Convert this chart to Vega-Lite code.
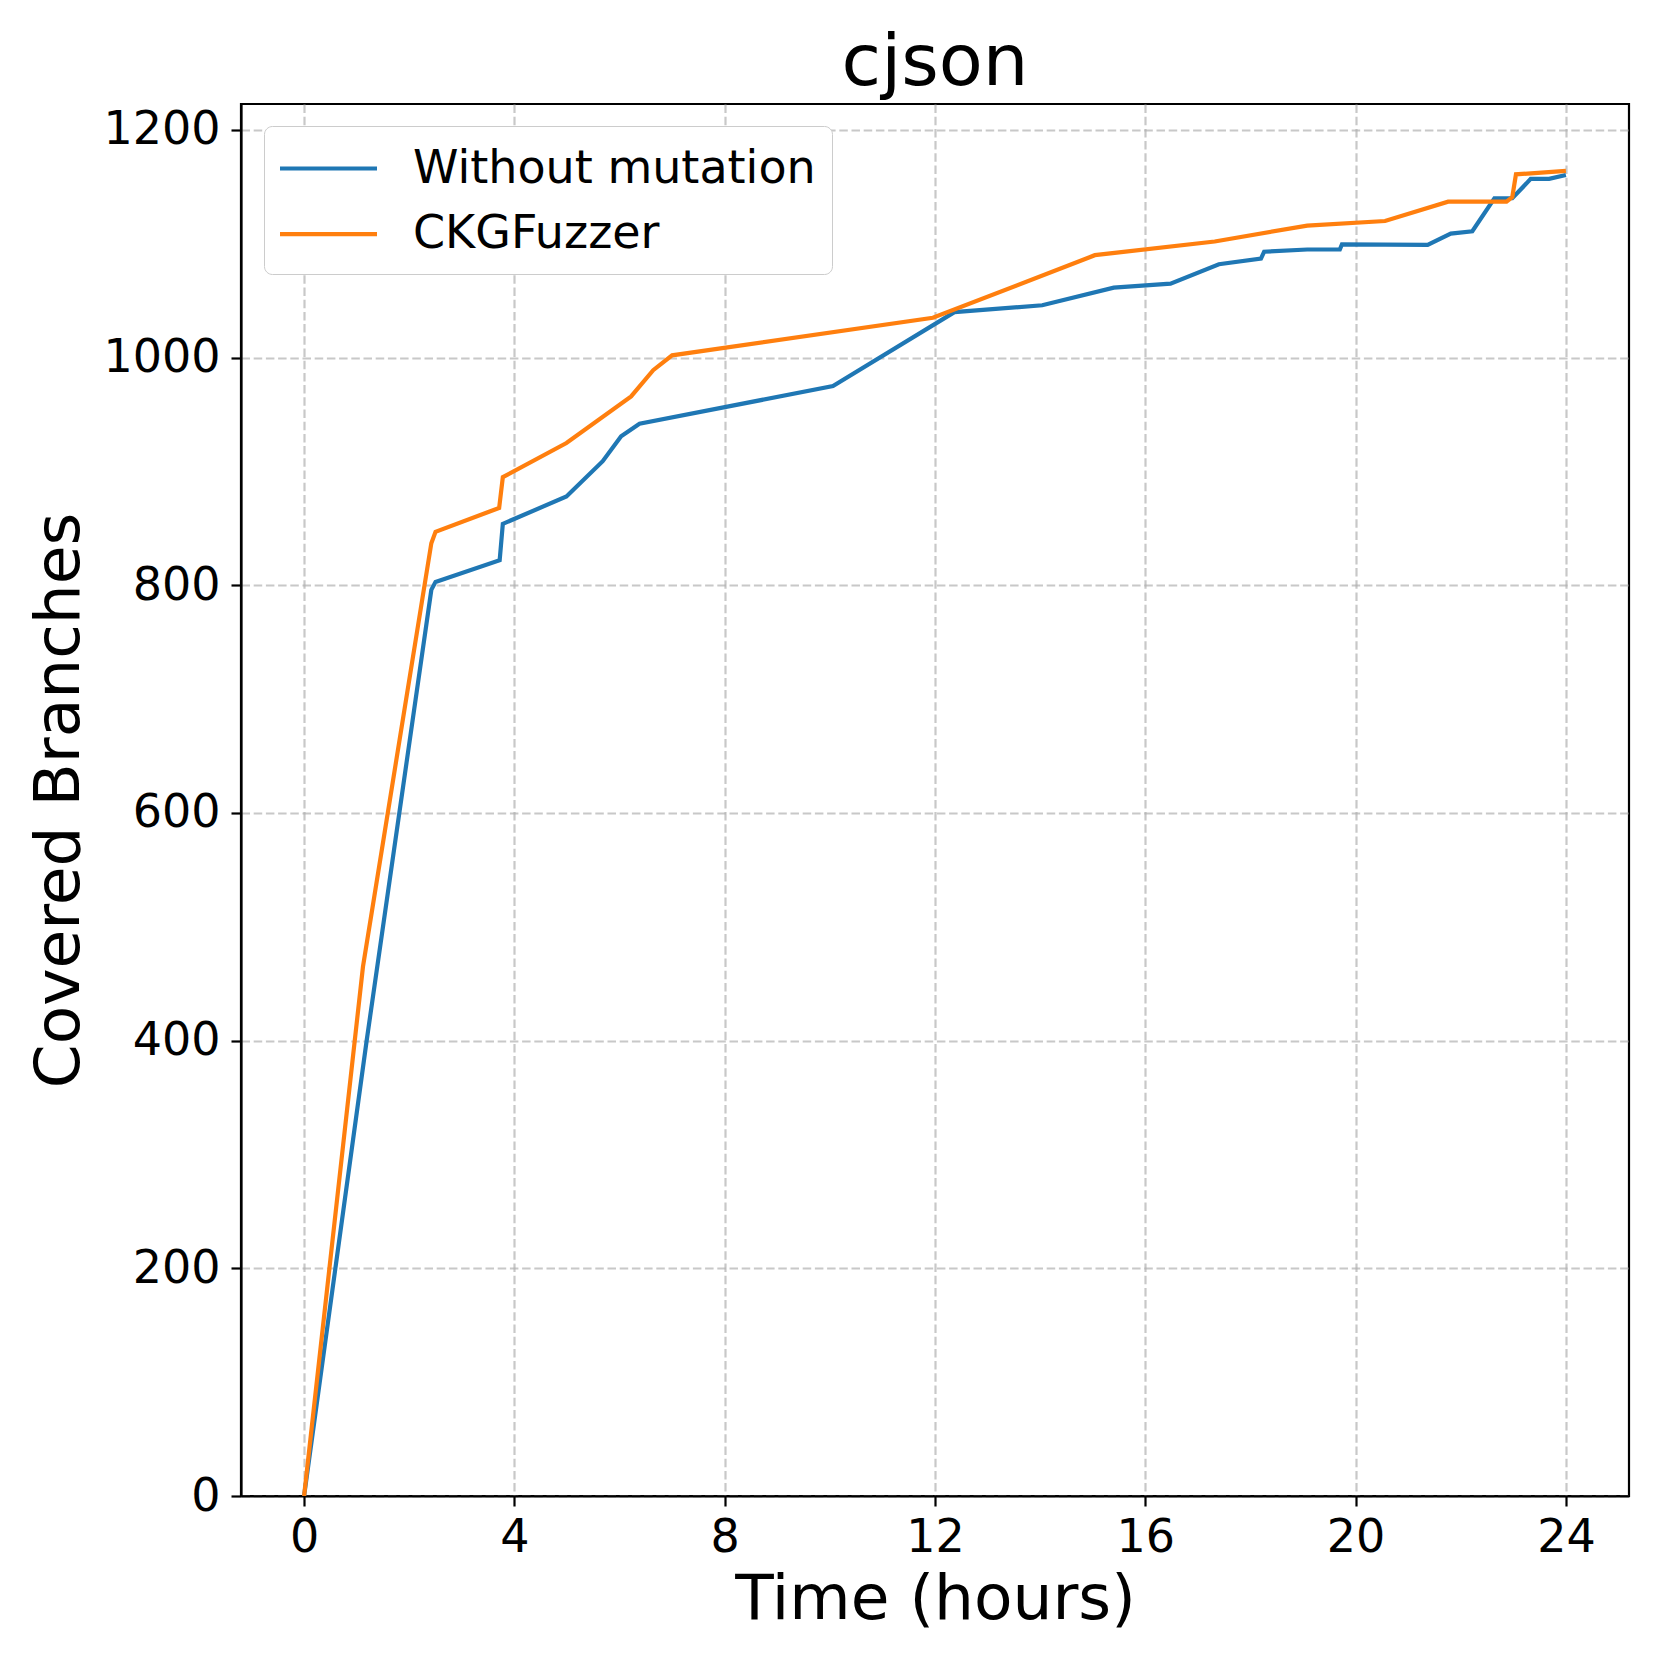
{
  "$schema": "https://vega.github.io/schema/vega-lite/v6.json",
  "width": 1388,
  "height": 1392,
  "autosize": {"type": "none"},
  "padding": {"left": 241, "top": 104, "right": 32, "bottom": 165},
  "background": "white",
  "title": {
    "text": "cjson",
    "font": "DejaVu Sans",
    "fontSize": 72,
    "fontWeight": "normal",
    "color": "black",
    "baseline": "alphabetic",
    "frame": "group",
    "offset": -53,
    "anchor": "middle"
  },
  "config": {
    "font": "DejaVu Sans",
    "view": {"stroke": "black", "strokeWidth": 2.2},
    "axis": {
      "labelFont": "DejaVu Sans",
      "titleFont": "DejaVu Sans",
      "labelFontSize": 46,
      "titleFontSize": 63,
      "titleFontWeight": "normal",
      "labelColor": "black",
      "titleColor": "black",
      "domainColor": "black",
      "domainWidth": 2.2,
      "tickColor": "black",
      "tickWidth": 2.2,
      "tickSize": 10,
      "grid": true,
      "gridColor": "#b0b0b0",
      "gridOpacity": 0.7,
      "gridWidth": 2.2,
      "gridDash": [8.5, 3.7]
    },
    "legend": {
      "labelFont": "DejaVu Sans",
      "labelFontSize": 46,
      "labelColor": "black",
      "labelLimit": 1000
    }
  },
  "data": {
    "values": [
      {"series": "Without mutation", "t": 0, "v": 0},
      {"series": "Without mutation", "t": 1.19, "v": 400},
      {"series": "Without mutation", "t": 2.42, "v": 796},
      {"series": "Without mutation", "t": 2.5, "v": 803},
      {"series": "Without mutation", "t": 3.72, "v": 822},
      {"series": "Without mutation", "t": 3.78, "v": 854},
      {"series": "Without mutation", "t": 4.99, "v": 878},
      {"series": "Without mutation", "t": 5.68, "v": 909},
      {"series": "Without mutation", "t": 6.03, "v": 931},
      {"series": "Without mutation", "t": 6.38, "v": 942},
      {"series": "Without mutation", "t": 10.06, "v": 975},
      {"series": "Without mutation", "t": 12.37, "v": 1040},
      {"series": "Without mutation", "t": 14.04, "v": 1046},
      {"series": "Without mutation", "t": 15.4, "v": 1061.5},
      {"series": "Without mutation", "t": 16.48, "v": 1065},
      {"series": "Without mutation", "t": 17.4, "v": 1082},
      {"series": "Without mutation", "t": 18.2, "v": 1087},
      {"series": "Without mutation", "t": 18.26, "v": 1093},
      {"series": "Without mutation", "t": 19.08, "v": 1095},
      {"series": "Without mutation", "t": 19.7, "v": 1095},
      {"series": "Without mutation", "t": 19.74, "v": 1099.5},
      {"series": "Without mutation", "t": 21.37, "v": 1099},
      {"series": "Without mutation", "t": 21.81, "v": 1109},
      {"series": "Without mutation", "t": 22.22, "v": 1111},
      {"series": "Without mutation", "t": 22.64, "v": 1140},
      {"series": "Without mutation", "t": 22.98, "v": 1140},
      {"series": "Without mutation", "t": 23.33, "v": 1157},
      {"series": "Without mutation", "t": 23.68, "v": 1157},
      {"series": "Without mutation", "t": 24.0, "v": 1160.5},
      {"series": "CKGFuzzer", "t": 0, "v": 0},
      {"series": "CKGFuzzer", "t": 1.12, "v": 465},
      {"series": "CKGFuzzer", "t": 2.42, "v": 837},
      {"series": "CKGFuzzer", "t": 2.5, "v": 847},
      {"series": "CKGFuzzer", "t": 3.71, "v": 868},
      {"series": "CKGFuzzer", "t": 3.78, "v": 895},
      {"series": "CKGFuzzer", "t": 4.99, "v": 925},
      {"series": "CKGFuzzer", "t": 6.22, "v": 966},
      {"series": "CKGFuzzer", "t": 6.64, "v": 989},
      {"series": "CKGFuzzer", "t": 7.0, "v": 1002},
      {"series": "CKGFuzzer", "t": 11.96, "v": 1035},
      {"series": "CKGFuzzer", "t": 15.04, "v": 1090},
      {"series": "CKGFuzzer", "t": 17.32, "v": 1102},
      {"series": "CKGFuzzer", "t": 19.08, "v": 1116},
      {"series": "CKGFuzzer", "t": 20.56, "v": 1120},
      {"series": "CKGFuzzer", "t": 21.76, "v": 1137},
      {"series": "CKGFuzzer", "t": 22.87, "v": 1137},
      {"series": "CKGFuzzer", "t": 22.98, "v": 1141},
      {"series": "CKGFuzzer", "t": 23.05, "v": 1161},
      {"series": "CKGFuzzer", "t": 24.0, "v": 1164}
    ]
  },
  "encoding": {
    "x": {
      "field": "t",
      "type": "quantitative",
      "scale": {"domain": [-1.2, 25.2], "nice": false, "zero": false},
      "axis": {
        "title": "Time (hours)",
        "values": [0, 4, 8, 12, 16, 20, 24],
        "format": "d",
        "labelPadding": 9.5,
        "titleBaseline": "alphabetic",
        "titleY": 122,
        "titleAnchor": "middle"
      }
    },
    "y": {
      "field": "v",
      "type": "quantitative",
      "scale": {"domain": [0, 1222.8], "nice": false},
      "axis": {
        "title": "Covered Branches",
        "values": [0, 200, 400, 600, 800, 1000, 1200],
        "format": "d",
        "labelPadding": 11,
        "titleBaseline": "alphabetic",
        "titleAngle": -90,
        "titleX": -163,
        "titleY": 696,
        "titleAlign": "center"
      }
    },
    "color": {
      "field": "series",
      "type": "nominal",
      "scale": {"domain": ["Without mutation", "CKGFuzzer"], "range": ["#1f77b4", "#ff7f0e"]},
      "legend": {
        "title": null,
        "orient": "none",
        "legendX": 23,
        "legendY": 22,
        "symbolType": "M-2,0L2,0",
        "symbolSize": 2352,
        "symbolStrokeWidth": 4.2,
        "symbolOffset": 22,
        "labelOffset": 58,
        "labelLimit": 1000,
        "padding": 16,
        "rowPadding": 15.7,
        "fillColor": "white",
        "strokeColor": "#cccccc",
        "cornerRadius": 8
      }
    }
  },
  "layer": [
    {
      "transform": [{"filter": "datum.series === 'Without mutation'"}],
      "mark": {"type": "line", "strokeWidth": 4.2, "clip": true}
    },
    {
      "transform": [{"filter": "datum.series === 'CKGFuzzer'"}],
      "mark": {"type": "line", "strokeWidth": 4.2, "clip": true}
    }
  ]
}
